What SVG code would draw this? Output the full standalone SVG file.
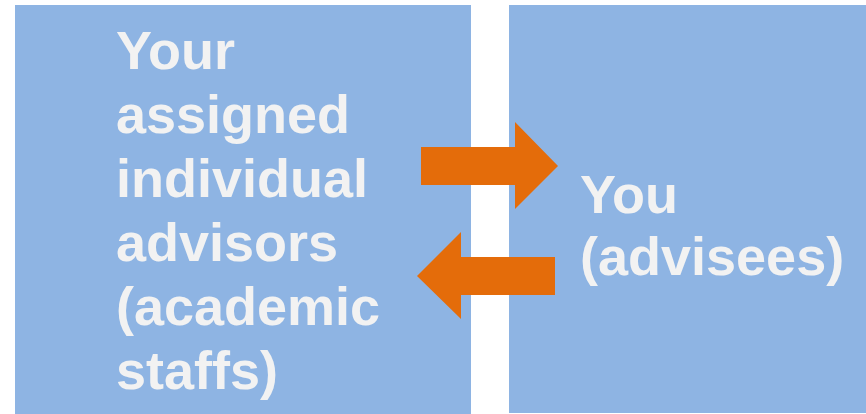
<svg xmlns="http://www.w3.org/2000/svg" width="866" height="414" viewBox="0 0 866 414">
<style>
.box{fill:#8eb4e3}
.lbl{font-family:"Liberation Sans",Arial,sans-serif;font-weight:bold;font-size:54px;fill:#f2f2f2}
.arr{fill:#e46c0a}
</style>
<rect width="866" height="414" fill="#ffffff"/>
<g id="advisors">
<rect class="box" x="15" y="5" width="456" height="409"/>
<text class="lbl"><tspan x="116" y="69">Your</tspan><tspan x="116" y="133">assigned</tspan><tspan x="116" y="197">individual</tspan><tspan x="116" y="261">advisors</tspan><tspan x="116" y="325">(academic</tspan><tspan x="116" y="389">staffs)</tspan></text>
</g>
<g id="advisees">
<rect class="box" x="509" y="5" width="357" height="408"/>
<text class="lbl"><tspan x="580" y="213">You</tspan><tspan x="580" y="275">(advisees)</tspan></text>
</g>
<g id="connectors">
<polygon class="arr" points="421,147 515,147 515,122 558,166 515,209 515,185 421,185"/>
<polygon class="arr" points="555,257 461,257 461,232 417,276 461,319 461,295 555,295"/>
</g>
</svg>
